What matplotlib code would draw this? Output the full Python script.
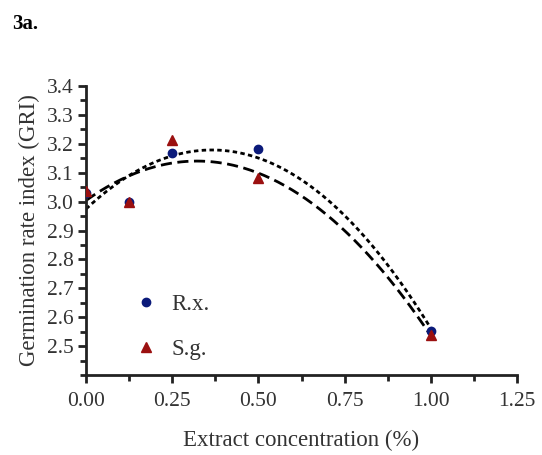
import numpy as np
import matplotlib
matplotlib.use('Agg')
import matplotlib.pyplot as plt
from matplotlib.ticker import MultipleLocator, FormatStrFormatter

plt.rcParams['font.family'] = ['Liberation Serif', 'DejaVu Serif']

# data
conc = [0.0, 0.125, 0.25, 0.5, 1.0]
grx = [3.03, 3.00, 3.168, 3.183, 2.554]   # R.x.
sgg = [3.035, 2.997, 3.212, 3.080, 2.537]  # S.g.
yticks = [2.5, 2.6, 2.7, 2.8, 2.9, 3.0, 3.1, 3.2, 3.3, 3.4]

navy = '#0b1a7a'
dred = '#9b1010'
grey = '#333333'

fig = plt.figure(figsize=(5.42, 4.55), dpi=100)
ax = fig.add_axes([0.1587, 0.1758, 0.7953, 0.6352])

# second order fits
xf = np.linspace(0, 1, 200)
p1 = np.polyfit(conc, grx, 2)
p2 = np.polyfit(conc, sgg, 2)
ax.plot(xf, np.polyval(p1, xf), color='black', lw=2, ls=(0, (1.6, 1.2)))
ax.plot(xf, np.polyval(p2, xf), color='black', lw=2, ls=(0, (4, 2)))

ax.plot(conc, grx, 'o', color=navy, ms=6, label='R.x.', zorder=3)
ax.plot(conc, sgg, '^', color=dred, ms=6.5, label='S.g.', zorder=3)

ax.set_xlim(0, 1.25)
ax.set_ylim(2.4, 3.4)
ax.xaxis.set_major_locator(MultipleLocator(0.25))
ax.xaxis.set_minor_locator(MultipleLocator(0.125))
ax.xaxis.set_major_formatter(FormatStrFormatter('%.2f'))
ax.set_yticks(yticks)
ax.yaxis.set_major_formatter(FormatStrFormatter('%.1f'))
ax.yaxis.set_minor_locator(MultipleLocator(0.05))

for s in ['top', 'right']:
    ax.spines[s].set_visible(False)
for s in ['left', 'bottom']:
    ax.spines[s].set_linewidth(2)
    ax.spines[s].set_color('#222222')
ax.tick_params(which='major', length=6, width=2, color='#222222',
               labelsize=15.5, labelcolor=grey)
ax.tick_params(axis='x', which='major', pad=6)
ax.tick_params(axis='y', which='major', pad=3)
ax.tick_params(which='minor', length=4, width=2, color='#222222')

ax.set_xlabel('Extract concentration (%)', fontsize=16.5, color=grey, labelpad=14)
ax.set_ylabel('Germination rate index (GRI)', fontsize=16.5, color=grey, labelpad=5)

leg = ax.legend(loc='lower left', bbox_to_anchor=(0.06, -0.02), frameon=False,
                fontsize=16.5, labelspacing=1.05, handletextpad=0.5,
                handlelength=1.2, labelcolor=grey)

fig.text(0.022, 0.948, '3a.', fontsize=15, fontweight='bold', va='center')

fig.savefig('out.png', dpi=100)
